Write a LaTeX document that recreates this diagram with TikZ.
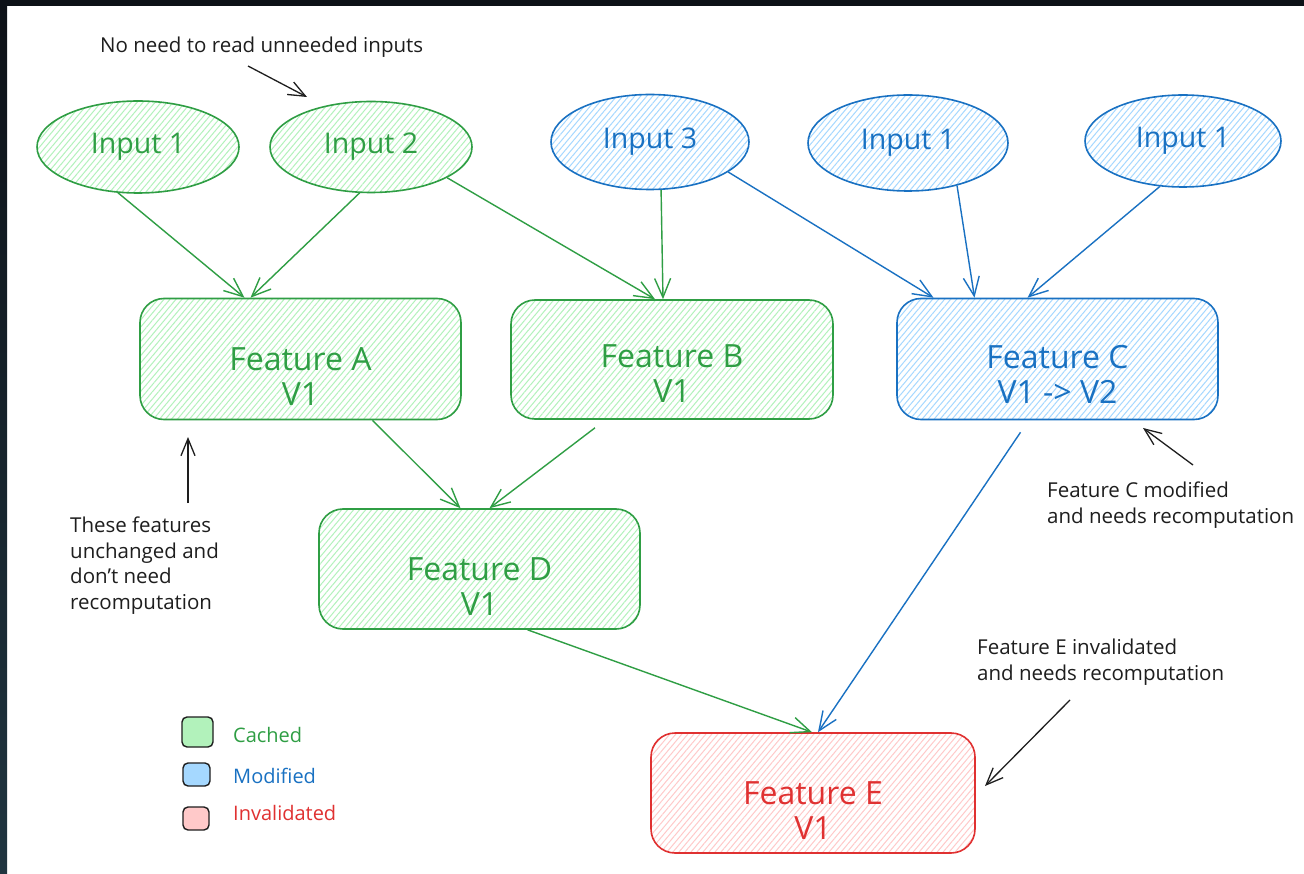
\documentclass[tikz,border=0pt]{standalone}
\usepackage{fontspec}
\setmainfont{Open Sans}
\usetikzlibrary{arrows.meta,shapes.geometric,patterns.meta}

\definecolor{gstroke}{HTML}{2F9E44}
\definecolor{ghatch}{HTML}{B2F2BB}
\definecolor{bstroke}{HTML}{1971C2}
\definecolor{bhatch}{HTML}{A5D8FF}
\definecolor{rstroke}{HTML}{E03131}
\definecolor{rhatch}{HTML}{FFC9C9}
\definecolor{ink}{HTML}{1E1E1E}
\definecolor{frametop}{HTML}{0D1117}
\definecolor{framebot}{HTML}{203540}

\begin{document}
\begin{tikzpicture}[x=1pt,y=-1pt,
  hatch/.style={pattern={Lines[angle=50,distance=4.6pt,line width=1pt]},pattern color=#1},
  inputnode/.style={ellipse, draw, line width=1.6pt, inner sep=0pt,
    font=\fontsize{28.5}{32}\selectfont},
  featbox/.style={rectangle, rounded corners=24pt, draw, line width=1.6pt,
    inner sep=0pt, minimum width=321pt, minimum height=121pt},
  feattext/.style={align=center, inner sep=0pt, font=\fontsize{32}{35}\selectfont},
  cachedc/.style={draw=gstroke, text=gstroke, hatch=ghatch},
  modifiedc/.style={draw=bstroke, text=bstroke, hatch=bhatch},
  invalidc/.style={draw=rstroke, text=rstroke, hatch=rhatch},
  conn/.style={line width=1.4pt, -{Straight Barb[length=19pt,width=16pt]}},
  gconn/.style={conn, draw=gstroke},
  bconn/.style={conn, draw=bstroke},
  note/.style={align=left, inner sep=0pt, text=ink,
    font=\fontsize{20.5}{25.5}\selectfont},
  noteconn/.style={line width=1.3pt, draw=ink, -{Straight Barb[length=17pt,width=14pt]}},
  legbox/.style={rectangle, rounded corners=5pt, draw=ink, line width=1.4pt, inner sep=0pt},
  legtext/.style={anchor=west, inner sep=0pt, font=\fontsize{20}{24}\selectfont}
]
\useasboundingbox (0,0) rectangle (1304,874);
\fill[white] (0,0) rectangle (1304,874);
% dark window frame along the top and left edges
\shade[top color=frametop, bottom color=framebot] (0,0) rectangle (7,874);
\fill[frametop] (0,0) rectangle (1304,6);

% inputs
\node[inputnode, cachedc, minimum width=202pt, minimum height=92pt] (in1) at (138,147) {Input 1};
\node[inputnode, cachedc, minimum width=202pt, minimum height=91pt] (in2) at (371,147) {Input 2};
\node[inputnode, modifiedc, minimum width=198pt, minimum height=95pt] (in3) at (650,142) {Input 3};
\node[inputnode, modifiedc, minimum width=200pt, minimum height=96pt] (in4) at (908,143) {Input 1};
\node[inputnode, modifiedc, minimum width=196pt, minimum height=92pt] (in5) at (1183,141) {Input 1};

% features
\node[featbox, cachedc] (fa) at (300.5,359) {};
\node[feattext, text=gstroke] (fat) at ([yshift=-18pt]fa.center) {Feature A\\V1};
\node[featbox, cachedc, minimum width=322pt, minimum height=119pt] (fb) at (672,359.5) {};
\node[feattext, text=gstroke] (fbt) at ([yshift=-14pt]fb.center) {Feature B\\V1};
\node[featbox, modifiedc] (fc) at (1057.5,359) {};
\node[feattext, text=bstroke] (fct) at ([yshift=-15pt]fc.center) {Feature C\\V1 -> V2};
\node[featbox, cachedc, minimum height=120pt] (fd) at (479.5,569) {};
\node[feattext, text=gstroke] (fdt) at ([yshift=-18pt]fd.center) {Feature D\\V1};
\node[featbox, invalidc, minimum width=324pt, minimum height=120pt] (fe) at (813,793) {};
\node[feattext, text=rstroke] (fet) at ([yshift=-18pt]fe.center) {Feature E\\V1};

% dependencies
\draw[gconn] (in1.-114) -- ([xshift=-56pt]fa.north);
\draw[gconn] (in2.-104) -- ([xshift=-50pt]fa.north);
\draw[gconn] (in2.-22) -- ([xshift=-17pt]fb.north);
\draw[gconn] (in3.-77) -- ([xshift=-9pt]fb.north);
\draw[bconn] (in3.-21) -- ([xshift=-124pt]fc.north);
\draw[bconn] (in4.-41) -- ([xshift=-83pt]fc.north);
\draw[bconn] (in5.-117) -- ([xshift=-30pt]fc.north);
\draw[gconn] ([xshift=72pt]fa.south) -- ([xshift=-19pt]fd.north);
\draw[gconn] ([xshift=-77pt,yshift=-8pt]fb.south) -- ([xshift=10pt]fd.north);
\draw[gconn] ([xshift=48pt]fd.south) -- ([xshift=-1pt]fe.north);
\draw[bconn] ([xshift=-37pt,yshift=-12pt]fc.south) -- ([xshift=5pt]fe.north);

% annotations
\node[note, anchor=north west] (n1) at (100,37) {No need to read unneeded inputs};
\coordinate (n1a) at (248,66);
\coordinate (n1b) at (307,97);
\draw[noteconn] (n1a) -- (n1b);

\node[note, anchor=north west] (n2) at (70,517) {These features\\unchanged and\\don't need\\recomputation};
\coordinate (n2a) at (188,503);
\coordinate (n2b) at (188,437);
\draw[noteconn] (n2a) -- (n2b);

\node[note, anchor=north west] (n3) at (1047,482) {Feature C modified\\and needs recomputation};
\coordinate (n3a) at (1193,465);
\coordinate (n3b) at (1143,428);
\draw[noteconn] (n3a) -- (n3b);

\node[note, anchor=north west] (n4) at (977,639) {Feature E invalidated\\and needs recomputation};
\coordinate (n4a) at (1070,700);
\coordinate (n4b) at (985,786);
\draw[noteconn] (n4a) -- (n4b);

% legend
\node[legbox, fill=ghatch, minimum width=31pt, minimum height=30pt] (lg) at (197.5,732) {};
\node[legbox, fill=bhatch, minimum width=27pt, minimum height=23pt] (lb) at (196.5,774.5) {};
\node[legbox, fill=rhatch, minimum width=26pt, minimum height=23pt] (lr) at (196,818.5) {};
\node[legtext, text=gstroke] (lgt) at (233,735) {Cached};
\node[legtext, text=bstroke] (lbt) at (233,776) {Modified};
\node[legtext, text=rstroke] (lrt) at (233,813) {Invalidated};
\end{tikzpicture}
\end{document}
